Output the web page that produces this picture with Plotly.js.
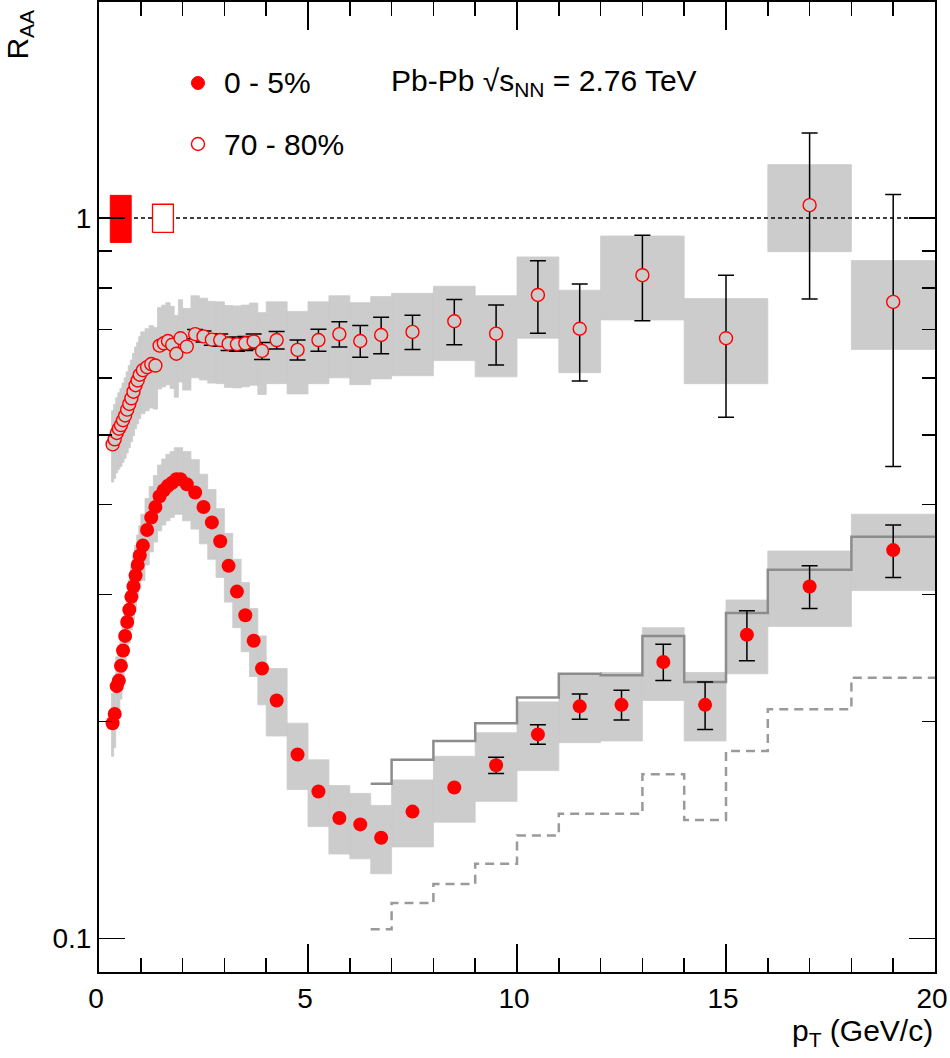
<!DOCTYPE html>
<html>
<head>
<meta charset="utf-8">
<script src="https://cdn.plot.ly/plotly-3.0.1.min.js"></script>
<style>
  body { margin: 0; background: #fff; }
  #chart { width: 950px; height: 1058px; }
</style>
</head>
<body>
<div id="chart"></div>
<script>
// ---- 0-5% centrality ----
var ptCentral = [0.325, 0.375, 0.425, 0.475, 0.525, 0.575, 0.625, 0.675, 0.725, 0.775, 0.825, 0.875, 0.925, 0.975,
  1.05, 1.15, 1.25, 1.35, 1.45, 1.55, 1.65, 1.75, 1.85, 1.95,
  2.1, 2.3, 2.5, 2.7, 2.9, 3.1, 3.3, 3.5, 3.7, 3.9,
  4.25, 4.75, 5.25, 5.75, 6.25, 6.75, 7.5, 8.5, 9.5, 10.5, 11.5, 12.5, 13.5, 14.5, 15.5, 17, 19];
var raaCentral = [0.199, 0.205, 0.224, 0.228, 0.239, 0.251, 0.263, 0.275, 0.286, 0.298, 0.308, 0.319, 0.330, 0.340,
  0.351, 0.369, 0.384, 0.397, 0.411, 0.419, 0.425, 0.429, 0.434, 0.434,
  0.427, 0.416, 0.397, 0.378, 0.356, 0.329, 0.303, 0.281, 0.259, 0.237,
  0.214, 0.180, 0.160, 0.147, 0.144, 0.138, 0.150, 0.162, 0.174, 0.192, 0.210, 0.211, 0.242, 0.211, 0.264, 0.308, 0.346];
var statCentral = [0.0015, 0.0015, 0.0015, 0.0015, 0.0015, 0.0015, 0.0015, 0.0015, 0.0015, 0.0015, 0.0015, 0.0015, 0.0015, 0.0015,
  0.0015, 0.0015, 0.0015, 0.0015, 0.0015, 0.0015, 0.0015, 0.0015, 0.0015, 0.0015,
  0.0015, 0.0015, 0.0015, 0.0015, 0.0015, 0.0015, 0.0015, 0.0015, 0.0015, 0.0015,
  0.0015, 0.0015, 0.0015, 0.0015, 0.0015, 0.0015, 0.0015, 0.0015, 0.0045, 0.006, 0.0085, 0.010, 0.014, 0.016, 0.021, 0.021, 0.029];
var sysCentral = [0.020, 0.021, 0.022, 0.023, 0.024, 0.025, 0.026, 0.028, 0.029, 0.030, 0.031, 0.032, 0.033, 0.034,
  0.037, 0.039, 0.040, 0.042, 0.043, 0.044, 0.045, 0.045, 0.046, 0.046,
  0.047, 0.046, 0.044, 0.042, 0.039, 0.036, 0.033, 0.031, 0.028, 0.026,
  0.023, 0.019, 0.017, 0.016, 0.015, 0.015, 0.016, 0.017, 0.019, 0.021, 0.023, 0.023, 0.028, 0.023, 0.031, 0.037, 0.042];
var edgesCentral = [0.3, 0.35, 0.4, 0.45, 0.5, 0.55, 0.6, 0.65, 0.7, 0.75, 0.8, 0.85, 0.9, 0.95, 1.0,
  1.1, 1.2, 1.3, 1.4, 1.5, 1.6, 1.7, 1.8, 1.9, 2.0,
  2.2, 2.4, 2.6, 2.8, 3.0, 3.2, 3.4, 3.6, 3.8, 4.0,
  4.5, 5, 5.5, 6, 6.5, 7, 8, 9, 10, 11, 12, 13, 14, 15, 16, 18, 20];

// ---- 70-80% centrality ----
var ptPeriph = [0.325, 0.375, 0.425, 0.475, 0.525, 0.575, 0.625, 0.675, 0.725, 0.775, 0.825, 0.875, 0.925, 0.975,
  1.05, 1.15, 1.25, 1.35, 1.45, 1.55, 1.65, 1.75, 1.85, 1.95,
  2.1, 2.3, 2.5, 2.7, 2.9, 3.1, 3.3, 3.5, 3.7, 3.9,
  4.25, 4.75, 5.25, 5.75, 6.25, 6.75, 7.5, 8.5, 9.5, 10.5, 11.5, 13, 15, 17, 19];
var raaPeriph = [0.485, 0.493, 0.503, 0.510, 0.516, 0.524, 0.532, 0.542, 0.552, 0.562, 0.574, 0.586, 0.595, 0.606,
  0.615, 0.621, 0.627, 0.624, 0.665, 0.670, 0.675, 0.667, 0.648, 0.681,
  0.663, 0.690, 0.685, 0.678, 0.677, 0.669, 0.668, 0.670, 0.674, 0.654,
  0.677, 0.656, 0.677, 0.690, 0.675, 0.688, 0.695, 0.719, 0.691, 0.782, 0.702, 0.833, 0.681, 1.042, 0.765];
var statPeriph = [0.004, 0.004, 0.004, 0.004, 0.004, 0.004, 0.004, 0.004, 0.004, 0.004, 0.004, 0.004, 0.004, 0.004,
  0.005, 0.005, 0.005, 0.005, 0.005, 0.005, 0.005, 0.005, 0.005, 0.005,
  0.007, 0.010, 0.012, 0.012, 0.013, 0.014, 0.015, 0.015, 0.016, 0.018,
  0.019, 0.021, 0.024, 0.028, 0.034, 0.040, 0.038, 0.052, 0.066, 0.090, 0.108, 0.113, 0.152, 0.270, 0.313];
var sysPeriph = [0.055, 0.058, 0.060, 0.062, 0.064, 0.066, 0.068, 0.070, 0.072, 0.073, 0.075, 0.076, 0.077, 0.079,
  0.080, 0.081, 0.082, 0.081, 0.086, 0.087, 0.088, 0.087, 0.084, 0.089,
  0.086, 0.090, 0.089, 0.088, 0.088, 0.087, 0.087, 0.087, 0.088, 0.085,
  0.088, 0.086, 0.088, 0.090, 0.088, 0.090, 0.091, 0.085, 0.089, 0.101, 0.092, 0.111, 0.092, 0.144, 0.108];
var edgesPeriph = [0.3, 0.35, 0.4, 0.45, 0.5, 0.55, 0.6, 0.65, 0.7, 0.75, 0.8, 0.85, 0.9, 0.95, 1.0,
  1.1, 1.2, 1.3, 1.4, 1.5, 1.6, 1.7, 1.8, 1.9, 2.0,
  2.2, 2.4, 2.6, 2.8, 3.0, 3.2, 3.4, 3.6, 3.8, 4.0,
  4.5, 5, 5.5, 6, 6.5, 7, 8, 9, 10, 11, 12, 14, 16, 18, 20];

// 0-5% with alternative (NLO) pp reference, upper and lower
var nloEdges = [6.5, 7, 8, 9, 10, 11, 12, 13, 14, 15, 16, 18, 20];
var nloUpper = [0.164, 0.177, 0.188, 0.199, 0.216, 0.233, 0.232, 0.263, 0.227, 0.283, 0.325, 0.361];
var nloLower = [0.103, 0.112, 0.119, 0.127, 0.139, 0.149, 0.149, 0.169, 0.146, 0.182, 0.208, 0.230];

// normalisation uncertainties (at R_AA = 1)
var normCentral = 0.075;
var normPeriph = 0.045;

var font = 'Liberation Sans, Arial, Helvetica, sans-serif';
var gray = '#cccccc';

// rectangles around each point, one polygon per bin (null separated)
function boxes(edges, y, sys) {
  var xs = [], ys = [];
  for (var i = 0; i < y.length; i++) {
    var lo = edges[i], hi = edges[i + 1];
    xs.push(lo, hi, hi, lo, lo, null);
    ys.push(y[i] - sys[i], y[i] - sys[i], y[i] + sys[i], y[i] + sys[i], y[i] - sys[i], null);
  }
  return {x: xs, y: ys};
}

function normBox(x0, x1, err) {
  return {x: [x0, x1, x1, x0, x0], y: [1 - err, 1 - err, 1 + err, 1 + err, 1 - err]};
}

// like ROOT, skip error bars that stay hidden inside the marker
function visibleErrors(x, y, err) {
  var out = {x: [], y: [], e: []};
  for (var i = 0; i < y.length; i++) {
    if (err[i] / y[i] > 0.014) {
      out.x.push(x[i]); out.y.push(y[i]); out.e.push(err[i]);
    }
  }
  return out;
}

var bC = boxes(edgesCentral, raaCentral, sysCentral);
var bP = boxes(edgesPeriph, raaPeriph, sysPeriph);
var nC = normBox(0.27, 0.77, normCentral);
var nP = normBox(1.28, 1.78, normPeriph);
var eC = visibleErrors(ptCentral, raaCentral, statCentral);
var eP = visibleErrors(ptPeriph, raaPeriph, statPeriph);

var sysC = {
  x: bC.x, y: bC.y, type: 'scatter', mode: 'lines', fill: 'toself',
  fillcolor: gray, line: {color: gray, width: 0.8}, hoverinfo: 'skip'
};
var sysP = {
  x: bP.x, y: bP.y, type: 'scatter', mode: 'lines', fill: 'toself',
  fillcolor: gray, line: {color: gray, width: 0.8}, hoverinfo: 'skip'
};
var upper = {
  x: nloEdges, y: nloUpper.concat(nloUpper[nloUpper.length - 1]),
  type: 'scatter', mode: 'lines', line: {shape: 'hv', color: '#8c8c8c', width: 2.5}
};
var lower = {
  x: nloEdges, y: nloLower.concat(nloLower[nloLower.length - 1]),
  type: 'scatter', mode: 'lines', line: {shape: 'hv', color: '#9a9a9a', width: 2.5, dash: '9px,6px'}
};
var unity = {
  x: [0, 20], y: [1, 1], type: 'scatter', mode: 'lines',
  line: {color: 'black', width: 1.3, dash: '4px,3px'}
};
var normC = {
  x: nC.x, y: nC.y, type: 'scatter', mode: 'lines', fill: 'toself',
  fillcolor: 'red', line: {color: 'red', width: 1}
};
var normP = {
  x: nP.x, y: nP.y, type: 'scatter', mode: 'lines', fill: 'toself',
  fillcolor: 'white', line: {color: 'red', width: 1.3}
};
var errBarsC = {
  x: eC.x, y: eC.y, type: 'scatter', mode: 'markers', marker: {size: 1, opacity: 0},
  error_y: {type: 'data', array: eC.e, color: 'black', thickness: 1.5, width: 8}
};
var errBarsP = {
  x: eP.x, y: eP.y, type: 'scatter', mode: 'markers', marker: {size: 1, opacity: 0},
  error_y: {type: 'data', array: eP.e, color: 'black', thickness: 1.5, width: 8}
};
var central = {
  x: ptCentral, y: raaCentral, type: 'scatter', mode: 'markers', name: '0 - 5%',
  marker: {symbol: 'circle', size: 14, color: 'red'}
};
var periph = {
  x: ptPeriph, y: raaPeriph, type: 'scatter', mode: 'markers', name: '70 - 80%',
  marker: {symbol: 'circle', size: 13, color: gray, line: {color: 'red', width: 1.4}}
};

var data = [sysC, sysP, upper, lower, unity, normC, normP, errBarsC, errBarsP, central, periph];

var layout = {
  width: 950, height: 1058,
  margin: {l: 99, r: 15, t: 2, b: 86},
  paper_bgcolor: 'white', plot_bgcolor: 'white',
  showlegend: false,
  font: {family: font, size: 28, color: 'black'},
  xaxis: {
    range: [0, 20], tick0: 0, dtick: 5,
    showline: true, linecolor: 'black', linewidth: 2, mirror: 'allticks',
    ticks: 'inside', ticklen: 28, tickwidth: 1.5, tickcolor: 'black',
    showgrid: false, zeroline: false,
    tickfont: {family: font, size: 28},
    ticklabeloverflow: 'allow', ticklabelshift: -3,
    minor: {ticks: 'inside', dtick: 1, ticklen: 14, tickwidth: 1.5, tickcolor: 'black', showgrid: false}
  },
  yaxis: {
    type: 'log', range: [-1.0465, 0.2998],
    tickmode: 'array', tickvals: [0.1, 1], ticktext: ['0.1', '1'],
    showline: true, linecolor: 'black', linewidth: 2, mirror: 'allticks',
    ticks: 'inside', ticklen: 26, tickwidth: 1.5, tickcolor: 'black',
    showgrid: false, zeroline: false,
    tickfont: {family: font, size: 28},
    minor: {ticks: 'inside', tickmode: 'array', tickvals: [0.2, 0.3, 0.4, 0.5, 0.6, 0.7, 0.8, 0.9],
            ticklen: 13, tickwidth: 1.5, tickcolor: 'black', showgrid: false}
  },
  annotations: [
    {xref: 'paper', yref: 'paper', x: 1, y: -0.062, xanchor: 'right', yanchor: 'middle',
     text: 'p<sub>T</sub> (GeV/c)', showarrow: false, font: {family: font, size: 30}},
    {xref: 'paper', yref: 'paper', x: -0.095, y: 0.966, xanchor: 'center', yanchor: 'middle', textangle: -90,
     text: 'R<sub>AA</sub>', showarrow: false, font: {family: font, size: 30}},
    {xref: 'paper', yref: 'paper', x: 0.147, y: 0.9165, xanchor: 'left', yanchor: 'middle',
     text: '0 - 5%', showarrow: false, font: {family: font, size: 30}},
    {xref: 'paper', yref: 'paper', x: 0.147, y: 0.8536, xanchor: 'left', yanchor: 'middle',
     text: '70 - 80%', showarrow: false, font: {family: font, size: 30}},
    {xref: 'paper', yref: 'paper', x: 0.347, y: 0.9165, xanchor: 'left', yanchor: 'middle',
     text: 'Pb-Pb \u221As<sub>NN</sub> = 2.76 TeV', showarrow: false, font: {family: font, size: 30}}
  ],
  shapes: [
    {type: 'circle', xref: 'paper', yref: 'paper', xsizemode: 'pixel', ysizemode: 'pixel',
     xanchor: 0.1184, yanchor: 0.9165, x0: -6.5, x1: 6.5, y0: -6.5, y1: 6.5,
     fillcolor: 'red', line: {color: 'red', width: 1}},
    {type: 'circle', xref: 'paper', yref: 'paper', xsizemode: 'pixel', ysizemode: 'pixel',
     xanchor: 0.1184, yanchor: 0.8536, x0: -6.5, x1: 6.5, y0: -6.5, y1: 6.5,
     fillcolor: 'white', line: {color: 'red', width: 1.4}}
  ]
};

Plotly.newPlot('chart', data, layout, {displayModeBar: false, staticPlot: true});
</script>
</body>
</html>
